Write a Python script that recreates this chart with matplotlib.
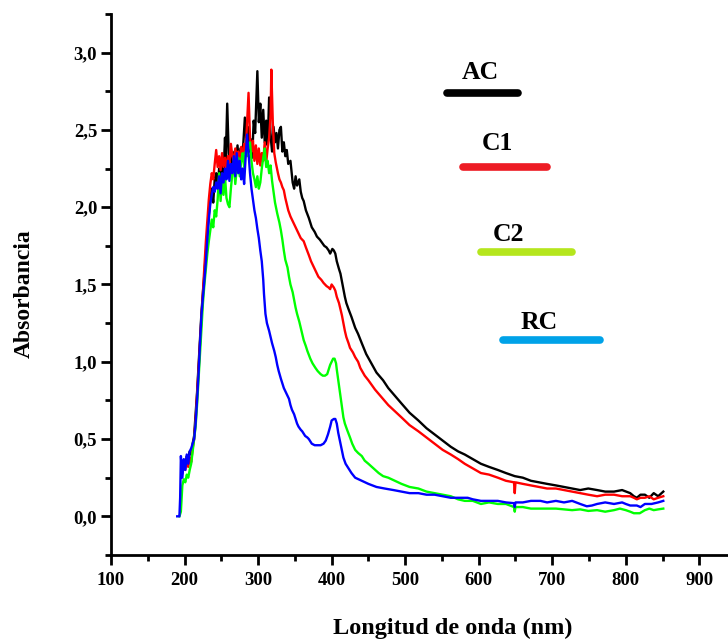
import numpy as np
import matplotlib
matplotlib.use('Agg')
import matplotlib.pyplot as plt
from matplotlib.ticker import MultipleLocator, FuncFormatter

# spectra (nm, absorbance)
wl_ac = [197, 199, 201, 203, 205, 207, 209, 211, 213, 215,
         217, 219, 221, 223, 225, 227, 229, 231, 233, 235,
         237, 239, 241, 243, 245, 247, 249, 251, 253, 255,
         256, 258, 260, 262, 264, 266, 268, 270, 272, 274,
         276, 278, 280, 282, 284, 286, 288, 290, 292, 294,
         296, 297, 299, 301, 303, 305, 307, 309, 311, 313,
         315, 317, 319, 321, 323, 325, 327, 329, 331, 333,
         335, 337, 339, 341, 344, 347, 349, 351, 353, 356,
         358, 360, 362, 365, 369, 373, 377, 380, 384, 387,
         390, 393, 396, 398, 401, 403, 405, 407, 410, 412,
         414, 416, 418, 420, 423, 427, 432, 436, 441, 447,
         454, 461, 470, 477, 486, 495, 506, 518, 529, 540,
         551, 562, 572, 581, 592, 603, 614, 626, 637, 649,
         660, 671, 682, 693, 705, 716, 727, 738, 749, 761,
         772, 784, 795, 806, 811, 815, 820, 826, 832, 838,
         844, 851]
abs_ac = [0.30, 0.36, 0.33, 0.39, 0.37, 0.42, 0.40, 0.47, 0.52, 0.66,
          0.80, 0.97, 1.15, 1.32, 1.45, 1.57, 1.70, 1.83, 1.95, 2.05,
          2.12, 2.03, 2.18, 2.22, 2.12, 2.25, 2.18, 2.30, 2.22, 2.45,
          2.30, 2.67, 2.35, 2.25, 2.33, 2.22, 2.36, 2.28, 2.40, 2.27,
          2.38, 2.30, 2.42, 2.58, 2.45, 2.52, 2.36, 2.44, 2.32, 2.56,
          2.48, 2.62, 2.88, 2.55, 2.67, 2.45, 2.63, 2.42, 2.56, 2.40,
          2.71, 2.46, 2.36, 2.52, 2.42, 2.48, 2.38, 2.50, 2.52, 2.36,
          2.42, 2.33, 2.37, 2.28, 2.30, 2.16, 2.12, 2.20, 2.14, 2.18,
          2.10, 2.06, 2.04, 1.98, 1.93, 1.87, 1.84, 1.81, 1.79, 1.77,
          1.75, 1.74, 1.72, 1.70, 1.73, 1.72, 1.70, 1.65, 1.60, 1.57,
          1.52, 1.47, 1.42, 1.38, 1.34, 1.29, 1.22, 1.18, 1.12, 1.05,
          0.99, 0.93, 0.88, 0.83, 0.78, 0.73, 0.67, 0.62, 0.57, 0.53,
          0.49, 0.45, 0.42, 0.40, 0.37, 0.34, 0.32, 0.30, 0.28, 0.26,
          0.25, 0.23, 0.22, 0.21, 0.20, 0.19, 0.18, 0.17, 0.18, 0.17,
          0.16, 0.16, 0.17, 0.15, 0.13, 0.12, 0.14, 0.14, 0.12, 0.15,
          0.13, 0.16]

wl_c1 = [197, 199, 201, 203, 205, 207, 209, 211, 213, 215,
         217, 219, 221, 223, 225, 227, 229, 231, 233, 235,
         237, 239, 241, 243, 245, 247, 249, 251, 253, 255,
         257, 259, 261, 263, 265, 267, 269, 271, 273, 275,
         277, 279, 281, 283, 285, 287, 289, 291, 293, 295,
         297, 299, 301, 303, 305, 307, 309, 311, 313, 315,
         317, 318, 320, 322, 324, 327, 329, 331, 333, 335,
         337, 339, 341, 344, 346, 349, 352, 355, 358, 362,
         365, 369, 372, 376, 379, 382, 386, 389, 393, 396,
         398, 400, 403, 405, 407, 410, 412, 414, 416, 418,
         420, 423, 425, 429, 432, 436, 439, 445, 450, 459,
         468, 477, 486, 495, 506, 518, 529, 540, 551, 562,
         572, 581, 592, 603, 614, 626, 637, 648, 649, 650,
         660, 671, 682, 693, 705, 716, 727, 738, 749, 761,
         772, 784, 795, 806, 811, 815, 820, 826, 832, 838,
         844, 851]
abs_c1 = [0.28, 0.34, 0.30, 0.36, 0.32, 0.38, 0.35, 0.44, 0.50, 0.62,
          0.78, 0.95, 1.12, 1.30, 1.46, 1.62, 1.78, 1.92, 2.05, 2.15,
          2.22, 2.18, 2.28, 2.37, 2.26, 2.33, 2.24, 2.35, 2.26, 2.32,
          2.25, 2.33, 2.28, 2.41, 2.33, 2.30, 2.38, 2.31, 2.36, 2.28,
          2.39, 2.30, 2.41, 2.35, 2.55, 2.74, 2.45, 2.36, 2.43, 2.30,
          2.40, 2.28, 2.38, 2.27, 2.35, 2.30, 2.42, 2.29, 2.38, 2.45,
          2.60, 2.89, 2.55, 2.35, 2.29, 2.22, 2.18, 2.16, 2.13, 2.11,
          2.06, 2.02, 1.98, 1.94, 1.92, 1.89, 1.86, 1.83, 1.80, 1.78,
          1.74, 1.69, 1.65, 1.61, 1.58, 1.55, 1.53, 1.51, 1.49, 1.48,
          1.47, 1.50, 1.48, 1.46, 1.42, 1.38, 1.34, 1.30, 1.25, 1.20,
          1.16, 1.12, 1.09, 1.06, 1.03, 1.00, 0.96, 0.91, 0.88, 0.82,
          0.77, 0.72, 0.68, 0.64, 0.59, 0.55, 0.51, 0.47, 0.43, 0.40,
          0.37, 0.34, 0.31, 0.28, 0.27, 0.25, 0.23, 0.22, 0.15, 0.22,
          0.21, 0.20, 0.19, 0.18, 0.18, 0.17, 0.16, 0.15, 0.14, 0.13,
          0.14, 0.14, 0.13, 0.13, 0.12, 0.11, 0.12, 0.12, 0.13, 0.11,
          0.12, 0.13]

wl_c2 = [193, 195, 197, 199, 201, 203, 205, 207, 209, 211,
         213, 215, 217, 219, 221, 223, 225, 227, 229, 231,
         233, 235, 237, 239, 241, 243, 245, 247, 249, 251,
         253, 255, 257, 259, 261, 263, 265, 267, 269, 271,
         273, 275, 277, 279, 281, 283, 285, 287, 289, 291,
         293, 295, 297, 299, 301, 303, 305, 307, 309, 311,
         313, 315, 317, 319, 321, 323, 326, 329, 331, 333,
         335, 337, 340, 342, 344, 347, 349, 351, 353, 356,
         358, 360, 362, 365, 367, 371, 374, 378, 381, 385,
         388, 391, 394, 396, 398, 400, 402, 404, 406, 407,
         409, 410, 412, 414, 416, 418, 421, 425, 428, 432,
         436, 441, 445, 450, 457, 464, 470, 477, 486, 495,
         506, 518, 529, 540, 551, 562, 572, 581, 592, 603,
         614, 626, 637, 648, 649, 650, 660, 671, 682, 693,
         705, 716, 727, 738, 749, 761, 772, 784, 792, 800,
         806, 811, 819, 826, 832, 838, 844, 851]
abs_c2 = [0.00, 0.03, 0.20, 0.24, 0.22, 0.27, 0.25, 0.30, 0.34, 0.42,
          0.50, 0.58, 0.72, 0.88, 1.05, 1.22, 1.38, 1.50, 1.60, 1.70,
          1.78, 1.85, 1.92, 1.87, 1.98, 1.94, 2.05, 2.22, 2.04, 2.18,
          2.08, 2.20, 2.06, 2.02, 2.00, 2.12, 2.22, 2.28, 2.15, 2.25,
          2.32, 2.20, 2.30, 2.35, 2.26, 2.36, 2.33, 2.40, 2.42, 2.30,
          2.22, 2.18, 2.13, 2.20, 2.12, 2.16, 2.25, 2.32, 2.38, 2.26,
          2.30, 2.22, 2.27, 2.17, 2.10, 2.03, 1.96, 1.90, 1.85, 1.79,
          1.72, 1.66, 1.61, 1.55, 1.50, 1.45, 1.40, 1.35, 1.31, 1.26,
          1.22, 1.18, 1.14, 1.10, 1.07, 1.02, 0.99, 0.96, 0.94, 0.92,
          0.91, 0.91, 0.92, 0.95, 0.98, 1.00, 1.02, 1.02, 0.99, 0.95,
          0.88, 0.84, 0.78, 0.70, 0.64, 0.60, 0.56, 0.51, 0.47, 0.43,
          0.41, 0.39, 0.36, 0.34, 0.31, 0.28, 0.26, 0.25, 0.23, 0.21,
          0.19, 0.18, 0.16, 0.15, 0.14, 0.13, 0.11, 0.10, 0.10, 0.08,
          0.09, 0.08, 0.08, 0.06, 0.03, 0.06, 0.06, 0.05, 0.05, 0.05,
          0.05, 0.045, 0.04, 0.045, 0.035, 0.04, 0.03, 0.04, 0.05, 0.04,
          0.03, 0.02, 0.02, 0.04, 0.05, 0.04, 0.045, 0.05]

wl_rc = [190, 193, 194, 195, 197, 199, 201, 203, 205, 207,
         209, 211, 213, 215, 217, 219, 221, 223, 225, 227,
         229, 231, 233, 235, 237, 239, 241, 243, 245, 247,
         249, 251, 253, 255, 257, 259, 261, 263, 265, 267,
         269, 271, 273, 275, 277, 279, 281, 283, 285, 287,
         289, 291, 293, 295, 297, 299, 301, 303, 305, 307,
         308, 310, 312, 315, 317, 319, 322, 324, 326, 328,
         331, 333, 335, 337, 340, 342, 344, 346, 349, 351,
         353, 355, 358, 360, 364, 367, 369, 373, 377, 381,
         385, 389, 392, 395, 398, 400, 403, 405, 407, 409,
         412, 414, 416, 419, 423, 427, 432, 441, 450, 461,
         472, 484, 495, 506, 518, 529, 540, 551, 562, 572,
         585, 592, 603, 614, 626, 637, 648, 649, 650, 660,
         671, 684, 693, 705, 716, 727, 738, 747, 754, 761,
         772, 784, 795, 800, 806, 815, 820, 826, 835, 844,
         851]
abs_rc = [0.00, 0.00, 0.12, 0.39, 0.25, 0.37, 0.30, 0.40, 0.34, 0.42,
          0.44, 0.47, 0.50, 0.60, 0.75, 0.92, 1.12, 1.30, 1.42, 1.53,
          1.65, 1.80, 1.92, 2.02, 2.08, 2.13, 2.10, 2.16, 2.12, 2.20,
          2.09, 2.22, 2.16, 2.25, 2.18, 2.30, 2.17, 2.28, 2.22, 2.33,
          2.20, 2.35, 2.22, 2.30, 2.18, 2.25, 2.15, 2.32, 2.47, 2.35,
          2.22, 2.12, 2.05, 1.98, 1.93, 1.86, 1.80, 1.72, 1.65, 1.53,
          1.44, 1.31, 1.25, 1.20, 1.16, 1.12, 1.07, 1.03, 0.98, 0.94,
          0.89, 0.86, 0.83, 0.81, 0.78, 0.76, 0.72, 0.69, 0.66, 0.63,
          0.60, 0.58, 0.56, 0.55, 0.52, 0.51, 0.50, 0.47, 0.46, 0.46,
          0.46, 0.47, 0.49, 0.53, 0.58, 0.62, 0.63, 0.63, 0.60, 0.54,
          0.47, 0.42, 0.38, 0.34, 0.31, 0.28, 0.25, 0.23, 0.21, 0.19,
          0.18, 0.17, 0.16, 0.15, 0.15, 0.14, 0.14, 0.13, 0.12, 0.12,
          0.12, 0.11, 0.10, 0.10, 0.10, 0.09, 0.085, 0.06, 0.09, 0.09,
          0.10, 0.10, 0.09, 0.10, 0.09, 0.10, 0.08, 0.065, 0.07, 0.08,
          0.09, 0.08, 0.09, 0.08, 0.07, 0.07, 0.06, 0.08, 0.08, 0.09,
          0.10]

labels = ['AC', 'C1', 'C2', 'RC']
line_colors = ['black', '#ff0000', '#00ff00', '#0000ff']
key_colors = ['black', '#ed1c24', '#b5e61d', '#00a2e8']

plt.rcParams['font.family'] = 'serif'
plt.rcParams['font.serif'] = ['Liberation Serif', 'DejaVu Serif']
plt.rcParams['font.weight'] = 'bold'

fig = plt.figure(figsize=(7.28, 6.39), dpi=100)
ax = fig.add_axes([0.1525, 0.1315, 0.8475, 0.8466])

series = [(wl_ac, abs_ac), (wl_c1, abs_c1), (wl_c2, abs_c2), (wl_rc, abs_rc)]
for (wl, a), c in zip(series, line_colors):
    ax.plot(wl, a, color=c, linewidth=1.7)

ax.set_xlim(100, 939)
ax.set_ylim(-0.25, 3.25)
ax.xaxis.set_major_locator(MultipleLocator(100))
ax.xaxis.set_minor_locator(MultipleLocator(50))
ax.yaxis.set_major_locator(MultipleLocator(0.5))
ax.yaxis.set_minor_locator(MultipleLocator(0.25))
ax.yaxis.set_major_formatter(FuncFormatter(lambda v, p: ('%.1f' % v).replace('.', ',')))

for s in ['top', 'right']:
    ax.spines[s].set_visible(False)
for s in ['left', 'bottom']:
    ax.spines[s].set_linewidth(2.0)

ax.tick_params(axis='both', which='major', direction='out', length=7, width=2,
               labelsize=13.5)
ax.tick_params(axis='both', which='minor', direction='out', length=4, width=2)
ax.tick_params(axis='x', which='major', pad=5)
ax.tick_params(axis='y', which='major', pad=3)

fig.text(0.033, 0.541, 'Absorbancia', rotation=90, ha='center', va='center',
         fontsize=17, fontweight='bold')
fig.text(0.622, 0.017, 'Longitud de onda (nm)', ha='center', va='center',
         fontsize=17.5, fontweight='bold')

# hand-made key: label above a short thick bar
text_pos = [(0.598, 0.891), (0.627, 0.760), (0.645, 0.593), (0.694, 0.429)]
bar_pos = [(0.545, 0.660, 0.854), (0.570, 0.707, 0.717),
           (0.600, 0.747, 0.560), (0.635, 0.793, 0.397)]
for lab, kc, tp, bp in zip(labels, key_colors, text_pos, bar_pos):
    ax.text(tp[0], tp[1], lab, transform=ax.transAxes, ha='center', va='center',
            fontsize=18.5, fontweight='bold')
    ax.plot([bp[0], bp[1]], [bp[2], bp[2]], transform=ax.transAxes,
            color=kc, linewidth=5.5, solid_capstyle='round', clip_on=False)

fig.savefig('out.png', dpi=100)
